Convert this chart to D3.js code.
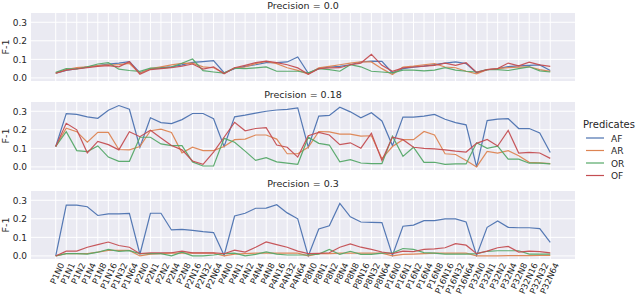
<!DOCTYPE html>
<meta charset="utf-8">
<head>
    <script src="https://d3js.org/d3.v7.min.js"></script>
    <style>
    body { margin: 0; background: white; font-family: "DejaVu Sans", sans-serif; }
    .grid line { stroke: white; stroke-width: 1; }
    .series { fill: none; stroke-width: 1.2; stroke-opacity: 0.95; }
    </style>
</head>
<body>
<svg id="svgid" width="640" height="297"></svg>
<script>
// categories: P x N combinations
var pVals = [1, 2, 4, 8, 16, 32];
var nVals = [0, 1, 2, 4, 8, 16, 32, 64];
var categories = [];
pVals.forEach(function(p) { nVals.forEach(function(n) { categories.push("P" + p + "N" + n); }); });

var predicates = ["AF", "AR", "OR", "OF"];
var colors = ["#4c72b0", "#dd8452", "#55a868", "#c44e52"];
var yTicks = [0.0, 0.1, 0.2, 0.3];
var titles = ["Precision = 0.0", "Precision = 0.18", "Precision = 0.3"];

// precision = 0.0
var AF1 = [0.026,0.04,0.05,0.058,0.066,0.074,0.08,0.088,0.028,0.048,0.055,0.06,0.07,0.084,0.088,0.093,0.028,0.05,0.062,0.071,0.082,0.082,0.086,0.113,0.025,0.05,0.059,0.062,0.071,0.086,0.091,0.089,0.027,0.05,0.058,0.064,0.072,0.08,0.086,0.077,0.028,0.044,0.05,0.061,0.065,0.068,0.07,0.04];
var AR1 = [0.025,0.045,0.055,0.06,0.066,0.07,0.072,0.078,0.025,0.05,0.06,0.07,0.078,0.08,0.06,0.055,0.025,0.055,0.059,0.077,0.089,0.077,0.055,0.041,0.02,0.054,0.062,0.071,0.08,0.086,0.086,0.05,0.018,0.059,0.064,0.071,0.077,0.059,0.055,0.036,0.022,0.045,0.05,0.055,0.058,0.06,0.045,0.035];
var OR1 = [0.03,0.05,0.048,0.06,0.075,0.082,0.047,0.04,0.035,0.053,0.053,0.058,0.079,0.102,0.039,0.032,0.026,0.053,0.05,0.054,0.059,0.036,0.036,0.036,0.027,0.05,0.045,0.036,0.071,0.06,0.036,0.032,0.027,0.042,0.042,0.038,0.042,0.055,0.042,0.036,0.032,0.045,0.045,0.04,0.05,0.06,0.038,0.032];
var OF1 = [0.025,0.042,0.048,0.055,0.062,0.066,0.06,0.088,0.02,0.045,0.05,0.055,0.064,0.075,0.048,0.06,0.022,0.055,0.068,0.082,0.091,0.082,0.071,0.054,0.02,0.05,0.054,0.055,0.071,0.08,0.127,0.068,0.036,0.054,0.059,0.064,0.068,0.08,0.068,0.082,0.03,0.045,0.05,0.08,0.065,0.085,0.07,0.062];

// precision = 0.18
var AF2 = [0.11,0.287,0.283,0.27,0.262,0.306,0.331,0.311,0.106,0.265,0.239,0.234,0.255,0.288,0.288,0.26,0.11,0.27,0.279,0.29,0.30,0.307,0.31,0.318,0.106,0.274,0.278,0.322,0.297,0.265,0.292,0.248,0.115,0.269,0.269,0.274,0.283,0.257,0.239,0.227,0.0,0.25,0.258,0.26,0.207,0.207,0.183,0.078];
var AR2 = [0.11,0.209,0.19,0.133,0.186,0.186,0.094,0.092,0.11,0.195,0.204,0.186,0.076,0.106,0.088,0.088,0.11,0.147,0.15,0.172,0.172,0.15,0.071,0.071,0.106,0.191,0.189,0.177,0.177,0.166,0.168,0.044,0.11,0.147,0.147,0.191,0.172,0.071,0.067,0.035,0.0,0.083,0.074,0.088,0.06,0.025,0.022,0.018];
var OR2 = [0.11,0.19,0.088,0.083,0.113,0.053,0.03,0.03,0.16,0.16,0.124,0.115,0.115,0.027,0.005,0.005,0.154,0.133,0.085,0.035,0.05,0.027,0.02,0.014,0.16,0.127,0.118,0.027,0.039,0.021,0.018,0.018,0.165,0.057,0.106,0.025,0.025,0.014,0.016,0.016,0.13,0.1,0.112,0.042,0.042,0.02,0.02,0.016];
var OF2 = [0.11,0.235,0.2,0.076,0.138,0.12,0.092,0.19,0.163,0.198,0.156,0.115,0.092,0.032,0.014,0.08,0.16,0.24,0.195,0.207,0.212,0.118,0.106,0.053,0.168,0.186,0.172,0.12,0.13,0.101,0.182,0.035,0.16,0.147,0.106,0.1,0.097,0.092,0.085,0.08,0.127,0.148,0.113,0.197,0.075,0.078,0.075,0.046];

// precision = 0.3
var AF3 = [0.0,0.274,0.274,0.265,0.218,0.227,0.227,0.229,0.009,0.23,0.23,0.14,0.143,0.138,0.131,0.126,0.003,0.215,0.23,0.257,0.258,0.276,0.232,0.2,0.0,0.145,0.162,0.283,0.211,0.183,0.181,0.18,0.003,0.16,0.166,0.19,0.19,0.2,0.2,0.183,0.003,0.154,0.188,0.154,0.152,0.152,0.147,0.073];
var AR3 = [0.0,0.012,0.012,0.012,0.02,0.03,0.03,0.03,0.0,0.01,0.012,0.015,0.015,0.015,0.015,0.015,0.0,0.01,0.012,0.015,0.015,0.015,0.015,0.015,0.0,0.012,0.012,0.015,0.015,0.015,0.015,0.015,0.0,0.008,0.01,0.012,0.015,0.015,0.015,0.015,0.0,0.0,0.0,0.002,0.002,0.002,0.003,0.003];
var OR3 = [0.0,0.012,0.012,0.01,0.02,0.035,0.025,0.028,0.012,0.012,0.012,0.0,0.02,0.0,0.0,0.005,0.012,0.015,0.0,0.008,0.022,0.01,0.005,0.005,0.005,0.01,0.035,0.008,0.025,0.008,0.008,0.015,0.015,0.04,0.035,0.018,0.015,0.01,0.01,0.01,0.012,0.025,0.028,0.028,0.028,0.01,0.01,0.01];
var OF3 = [0.0,0.026,0.026,0.047,0.061,0.075,0.056,0.047,0.012,0.017,0.017,0.017,0.026,0.016,0.016,0.017,0.012,0.031,0.021,0.047,0.075,0.061,0.047,0.026,0.012,0.014,0.017,0.047,0.065,0.047,0.035,0.021,0.012,0.026,0.023,0.035,0.038,0.044,0.066,0.058,0.012,0.026,0.044,0.051,0.021,0.026,0.023,0.016];

var panels = [
    [AF1, AR1, OR1, OF1],
    [AF2, AR2, OR2, OF2],
    [AF3, AR3, OR3, OF3]
];
var panelTops = [13, 102, 191];
var panelH = 68;
var left = 31, right = 575;

var svg = d3.select("#svgid");

var x = d3.scalePoint().domain(categories).range([left, right]).padding(2.35);

panels.forEach(function(series, pi) {
    var top = panelTops[pi];
    var y = d3.scaleLinear().domain([-0.0166, 0.35]).range([top + panelH, top]);
    var g = svg.append("g");

    g.append("rect")
        .attr("x", left).attr("y", top)
        .attr("width", right - left).attr("height", panelH)
        .attr("fill", "#eaeaf2");

    var grid = g.append("g").attr("class", "grid");
    grid.selectAll(".vx").data(categories).enter().append("line")
        .attr("x1", function(d) { return x(d); }).attr("x2", function(d) { return x(d); })
        .attr("y1", top).attr("y2", top + panelH);
    grid.selectAll(".hy").data(yTicks).enter().append("line")
        .attr("x1", left).attr("x2", right)
        .attr("y1", function(d) { return y(d); }).attr("y2", function(d) { return y(d); });

    // y axis labels
    var yAxis = d3.axisLeft(y).tickValues(yTicks).tickFormat(d3.format(".1f")).tickSize(0).tickPadding(4);
    var ya = g.append("g").attr("transform", "translate(" + left + ",0)").call(yAxis);
    ya.select(".domain").remove();
    ya.selectAll("text").style("font-size", "9px").style("fill", "#262626").style("font-family", "DejaVu Sans");

    g.append("text")
        .attr("transform", "translate(9," + (top + panelH / 2) + ") rotate(-90)")
        .attr("text-anchor", "middle")
        .style("font-size", "9.5px").style("fill", "#262626")
        .text("F-1");

    g.append("text")
        .attr("x", (left + right) / 2).attr("y", top - 4)
        .attr("text-anchor", "middle")
        .style("font-size", "9.5px").style("fill", "#262626")
        .text(titles[pi]);

    var line = d3.line()
        .x(function(d, i) { return x(categories[i]); })
        .y(function(d) { return y(d); });

    series.forEach(function(vals, si) {
        g.append("path")
            .datum(vals)
            .attr("class", "series")
            .attr("stroke", colors[si])
            .attr("d", line);
    });

    if (pi === 2) {
        var xAxis = d3.axisBottom(x).tickSize(0).tickPadding(3);
        var xa = g.append("g").attr("transform", "translate(0," + (top + panelH) + ")").call(xAxis);
        xa.select(".domain").remove();
        xa.selectAll("text")
            .style("font-size", "8.5px").style("fill", "#262626").style("font-family", "DejaVu Sans")
            .attr("text-anchor", "end")
            .attr("dy", "0.35em")
            .attr("transform", "translate(3,3) rotate(-65)");
    }
});

// legend
var leg = svg.append("g").attr("transform", "translate(583,0)");
leg.append("text").attr("x", 0).attr("y", 128)
    .style("font-size", "10px").style("fill", "#262626").text("Predicates");
predicates.forEach(function(p, i) {
    var yy = 138 + i * 12.5;
    leg.append("line").attr("x1", 3).attr("x2", 21).attr("y1", yy).attr("y2", yy)
        .attr("stroke", colors[i]).attr("stroke-width", 1.2);
    leg.append("text").attr("x", 28).attr("y", yy + 3.5)
        .style("font-size", "9px").style("fill", "#262626").text(p);
});
</script>
</body>
